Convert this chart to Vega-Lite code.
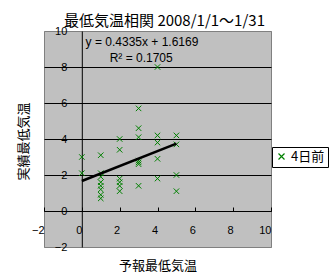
{
  "$schema": "https://vega.github.io/schema/vega-lite/v6.json",
  "width": 227,
  "height": 216,
  "autosize": {"type": "none"},
  "padding": {"left": 44, "top": 31, "right": 61, "bottom": 32},
  "background": "white",
  "title": {
    "text": "最低気温相関  2008/1/1～1/31",
    "font": "Noto Sans CJK JP",
    "fontSize": 15,
    "fontWeight": "normal",
    "color": "black",
    "anchor": "middle",
    "dx": 7,
    "offset": -4
  },
  "config": {
    "view": {"fill": "#c0c0c0", "stroke": "#808080", "strokeWidth": 1}
  },
  "datasets": {
    "obs": [
      {"x": 0, "y": 3.0, "series": "4日前"},
      {"x": 0, "y": 2.1, "series": "4日前"},
      {"x": 1, "y": 3.1, "series": "4日前"},
      {"x": 1, "y": 2.1, "series": "4日前"},
      {"x": 1, "y": 1.9, "series": "4日前"},
      {"x": 1, "y": 1.6, "series": "4日前"},
      {"x": 1, "y": 1.4, "series": "4日前"},
      {"x": 1, "y": 1.2, "series": "4日前"},
      {"x": 1, "y": 0.9, "series": "4日前"},
      {"x": 1, "y": 0.7, "series": "4日前"},
      {"x": 2, "y": 4.0, "series": "4日前"},
      {"x": 2, "y": 3.4, "series": "4日前"},
      {"x": 2, "y": 1.8, "series": "4日前"},
      {"x": 2, "y": 1.6, "series": "4日前"},
      {"x": 2, "y": 1.4, "series": "4日前"},
      {"x": 2, "y": 1.1, "series": "4日前"},
      {"x": 3, "y": 5.7, "series": "4日前"},
      {"x": 3, "y": 4.6, "series": "4日前"},
      {"x": 3, "y": 4.1, "series": "4日前"},
      {"x": 3, "y": 2.8, "series": "4日前"},
      {"x": 3, "y": 2.7, "series": "4日前"},
      {"x": 3, "y": 2.6, "series": "4日前"},
      {"x": 3, "y": 1.4, "series": "4日前"},
      {"x": 4, "y": 8.0, "series": "4日前"},
      {"x": 4, "y": 4.2, "series": "4日前"},
      {"x": 4, "y": 3.8, "series": "4日前"},
      {"x": 4, "y": 2.9, "series": "4日前"},
      {"x": 4, "y": 1.8, "series": "4日前"},
      {"x": 5, "y": 4.2, "series": "4日前"},
      {"x": 5, "y": 3.7, "series": "4日前"},
      {"x": 5, "y": 2.0, "series": "4日前"},
      {"x": 5, "y": 1.1, "series": "4日前"}
    ],
    "labels": [
      {"lx": 0.2, "ly": 9.4, "text": "y = 0.4335x + 1.6169"},
      {"lx": 1.47, "ly": 8.5, "text": "R² = 0.1705"}
    ]
  },
  "layer": [
    {
      "data": {"name": "obs"},
      "mark": {
        "type": "point",
        "shape": "M-1,-1L1,1M-1,1L1,-1",
        "filled": false,
        "size": 30,
        "strokeWidth": 1,
        "opacity": 1
      },
      "encoding": {
        "x": {
          "field": "x",
          "type": "quantitative",
          "scale": {"domain": [-2, 10], "nice": false, "zero": false},
          "axis": {
            "title": "予報最低気温",
            "titleFont": "Noto Sans CJK JP",
            "titleFontSize": 13,
            "titleFontWeight": "normal",
            "titleColor": "#000000",
            "titleX": 113.5,
            "titleY": 54,
            "titleBaseline": "middle",
            "titleAlign": "center",
            "values": [-2, 0, 2, 4, 6, 8, 10],
            "tickCount": 20,
            "format": "d",
            "offset": -36,
            "domainColor": "black",
            "domainWidth": 1,
            "ticks": true,
            "tickSize": -4,
            "tickColor": "black",
            "grid": false,
            "labelOverlap": false,
            "labelFlush": false,
            "labelFont": "Liberation Sans",
            "labelFontSize": 11,
            "labelAlign": "right",
            "labelBaseline": "top",
            "labelDx": 1,
            "labelPadding": 17,
            "encode": {
              "labels": {"update": {"fill": [{"test": "datum.value < 0", "value": "red"}, {"value": "black"}]}},
              "title": {"update": {"fill": {"value": "black"}}}
            }
          }
        },
        "y": {
          "field": "y",
          "type": "quantitative",
          "scale": {"domain": [-2, 10], "nice": false, "zero": false},
          "axis": {
            "title": "実績最低気温",
            "titleFont": "Noto Sans CJK JP",
            "titleFontSize": 13,
            "titleFontWeight": "normal",
            "titleColor": "#000000",
            "titleX": -58.8,
            "titleY": 110,
            "titleBaseline": "middle",
            "titleAlign": "center",
            "titleAngle": -90,
            "values": [-2, 0, 2, 4, 6, 8, 10],
            "tickCount": 20,
            "format": "d",
            "offset": -37.8,
            "domainColor": "black",
            "domainWidth": 1,
            "ticks": false,
            "tickSize": 0,
            "grid": true,
            "gridWidth": 1,
            "gridColor": {"condition": {"test": "datum.value == -2 || datum.value == 10", "value": "#808080"}, "value": "black"},
            "labelOverlap": false,
            "labelFlush": false,
            "labelFont": "Liberation Sans",
            "labelFontSize": 11,
            "labelPadding": 15,
            "encode": {
              "labels": {"update": {"fill": [{"test": "datum.value < 0", "value": "red"}, {"value": "black"}]}},
              "title": {"update": {"fill": {"value": "black"}}}
            }
          }
        },
        "color": {
          "field": "series",
          "type": "nominal",
          "scale": {"range": ["#008000"]},
          "legend": {
            "title": null,
            "orient": "none",
            "legendX": 228,
            "legendY": 116,
            "strokeColor": "black",
            "fillColor": "white",
            "padding": 3,
            "labelFont": "Noto Sans CJK JP",
            "labelFontSize": 13,
            "labelColor": "black",
            "symbolType": "M-1,-1L1,1M-1,1L1,-1",
            "symbolSize": 36,
            "symbolStrokeWidth": 1.2,
            "symbolFillColor": "transparent",
            "symbolStrokeColor": "#008000",
            "labelOffset": 3,
            "encode": {
              "symbols": {"update": {"stroke": {"value": "#008000"}, "opacity": {"value": 1}}}
            }
          }
        }
      }
    },
    {
      "data": {"name": "obs"},
      "transform": [{"regression": "y", "on": "x", "extent": [0, 5]}],
      "mark": {"type": "line", "color": "black", "strokeWidth": 2.5},
      "encoding": {
        "x": {"field": "x", "type": "quantitative"},
        "y": {"field": "y", "type": "quantitative"}
      }
    },
    {
      "data": {"name": "labels"},
      "mark": {"type": "text", "align": "left", "baseline": "middle", "font": "Liberation Sans", "fontSize": 12, "color": "black"},
      "encoding": {
        "x": {"field": "lx", "type": "quantitative"},
        "y": {"field": "ly", "type": "quantitative"},
        "text": {"field": "text"}
      }
    }
  ]
}
